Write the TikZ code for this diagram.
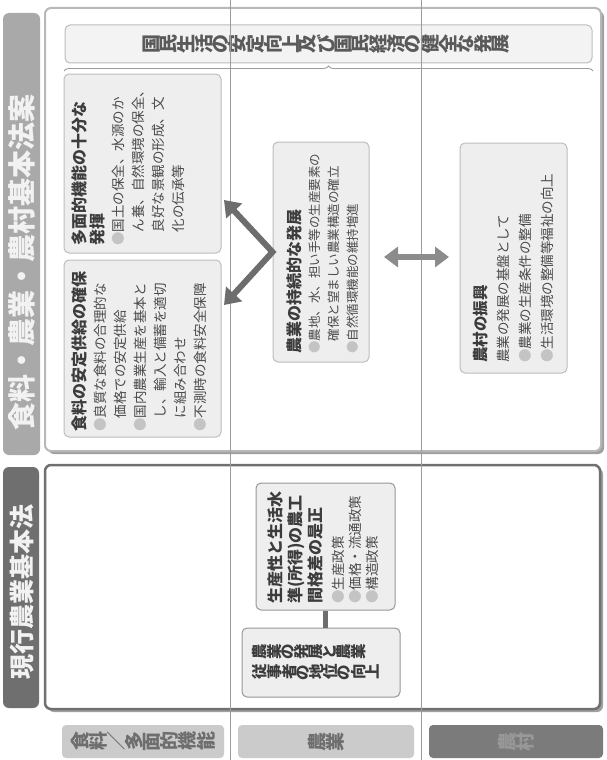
\documentclass[tikz,border=0pt]{standalone}
\usepackage{fontspec}
\setmainfont{Noto Sans CJK JP}
\usepackage{graphicx}
\usetikzlibrary{arrows.meta,decorations.pathreplacing,calc}
\ExplSyntaxOn
\NewDocumentCommand\vtxt{m}{\tl_map_inline:nn {#1} {\rotatebox[origin=c]{90}{##1}}}
\ExplSyntaxOff
\definecolor{hdrA}{HTML}{A9A9A9}
\definecolor{hdrB}{HTML}{6F6F6F}
\definecolor{pbordA}{HTML}{B8B8B8}
\definecolor{pbordB}{HTML}{707070}
\definecolor{shadowc}{HTML}{A0A0A0}
\definecolor{boxf}{HTML}{EEEEEE}
\definecolor{boxb}{HTML}{BDBDBD}
\definecolor{topf}{HTML}{F3F3F3}
\definecolor{topt}{HTML}{5A5A5A}
\definecolor{ttlc}{HTML}{3C3C3C}
\definecolor{txtc}{HTML}{4A4A4A}
\definecolor{bulc}{HTML}{C4C4C4}
\definecolor{divc}{HTML}{9C9C9C}
\definecolor{arwc}{HTML}{6D6D6D}
\definecolor{dblc}{HTML}{8C8C8C}
\definecolor{lblf}{HTML}{CBCBCB}
\definecolor{lblt}{HTML}{6E6E6E}
\definecolor{lbldf}{HTML}{7B7B7B}
\definecolor{lbldt}{HTML}{989898}
\newcommand\ttl{\fontsize{16}{18}\selectfont\bfseries\color{ttlc}}
\newcommand\bdy{\fontsize{13.5}{20}\selectfont\color{txtc}}
\newcommand\bul{{\color{bulc}●}}
\newcommand\ind{\hspace*{1em}}
\tikzset{
  hdrbar/.style={rotate=90, rounded corners=6, inner sep=0},
  hdrtext/.style={rotate=90, inner sep=0, text=white!95!black},
  panelbox/.style={fill=white, rounded corners=6, inner sep=0},
  shadowbox/.style={fill=shadowc, rounded corners=6, inner sep=0},
  cbox/.style={draw=boxb, fill=boxf, rounded corners=5, line width=1, inner sep=0},
  txt/.style={rotate=90, anchor=north west, inner sep=0, align=left},
  lbl/.style={rounded corners=4, inner sep=0, minimum height=33},
  divline/.style={draw=divc, line width=0.8},
  arw/.style={draw=arwc, line width=6, line join=miter, {Triangle[length=15,width=21]}-{Triangle[length=15,width=21]}},
  dblarw/.style={draw=dblc, line width=6, {Triangle[length=14,width=20]}-{Triangle[length=14,width=20]}},
}
\begin{document}
\begin{tikzpicture}[x=1pt,y=1pt]
\useasboundingbox (0,0) rectangle (606,-760);
\fill[white] (0,0) rectangle (606,-760);

% headers
\node[hdrbar, fill=hdrA, minimum width=442, minimum height=37] (h1) at (21.5,-234) {};
\node[hdrtext, font=\fontsize{28}{28}\selectfont\bfseries] (h1t) at (22,-262) {食料・農業・農村基本法案};
\node[hdrbar, fill=hdrB, minimum width=241, minimum height=36] (h2) at (21,-587.5) {};
\node[hdrtext, font=\fontsize{25}{25}\selectfont\bfseries] (h2t) at (22,-592) {現行農業基本法};

% panels
\node[shadowbox, minimum width=556, minimum height=443] (pnsh) at (326,-232.5) {};
\node[panelbox, draw=pbordA, line width=2, minimum width=556, minimum height=443] (pn) at (323,-229.5) {};
\node[shadowbox, minimum width=555, minimum height=244] (pcsh) at (325.5,-590) {};
\node[panelbox, draw=pbordB, line width=2.5, minimum width=555, minimum height=244] (pc) at (322.5,-587) {};

% top goal box
\node[cbox, fill=topf, draw=boxb, minimum width=527, minimum height=38] (top) at (328.5,-44) {};
\node[inner sep=0, font=\fontsize{19}{19}\selectfont\bfseries, text=topt] (topt) at (326,-44)
  {\vtxt{国民生活の安定向上及び国民経済の健全な発展}};
\draw[draw=divc, line width=0.9, decorate, decoration={brace, amplitude=5}] (64,-71) -- (593,-71);

% divider lines
\draw[divline] (230,0) -- (230,-760);
\draw[divline] (421,0) -- (421,-760);

% content boxes (new law)
\node[cbox, minimum width=157, minimum height=179] (A) at (142.5,-163.5) {};
\node[cbox, minimum width=157, minimum height=177] (B) at (142.5,-348.5) {};
\node[cbox, minimum width=96, minimum height=220] (C) at (321,-252) {};
\node[cbox, minimum width=107, minimum height=230] (D) at (513.5,-258) {};

\node[txt, text width=175] (At) at (72,-246)
 {{\ttl 多面的機能の十分な\\発揮\par}
  {\bdy\bul 国土の保全、水源のか\\\ind ん養、自然環境の保全、\\\ind 良好な景観の形成、文\\\ind 化の伝承等\par}};
\node[txt, text width=172] (Bt) at (72,-432)
 {{\ttl 食料の安定供給の確保\par}
  {\bdy\bul 良質な食料の合理的な\\\ind 価格での安定供給\\\bul 国内農業生産を基本と\\\ind し、輸入と備蓄を適切\\\ind に組み合わせ\\\bul 不測時の食料安全保障\par}};
\node[txt, text width=212] (Ct) at (287,-354)
 {{\ttl 農業の持続的な発展\par}
  {\fontsize{12.5}{19}\selectfont\color{txtc}\bul 農地、水、担い手等の生産要素の\\\ind 確保と望ましい農業構造の確立\\\bul 自然循環機能の維持増進\par}};
\node[txt, text width=222] (Dt) at (473,-363)
 {{\fontsize{15.5}{17}\selectfont\bfseries\color{ttlc}農村の振興\par}
  {\fontsize{13.5}{22}\selectfont\color{txtc}農業の発展の基盤として\\\bul 農業の生産条件の整備\\\bul 生活環境の整備等福祉の向上\par}};

% arrows
\coordinate (tipA) at (224,-200);
\coordinate (tipB) at (224,-305);
\draw[arw] (tipA) -- (C.west) -- (tipB);
\coordinate (dblL) at (384,-257);
\coordinate (dblR) at (449,-257);
\draw[dblarw] (dblL) -- (dblR);

% current law boxes
\node[cbox, draw=boxb!80!black, minimum width=139, minimum height=127] (E) at (325.5,-546.5) {};
\node[cbox, draw=boxb!80!black, minimum width=158, minimum height=69] (F) at (321,-662.5) {};
\draw[draw=arwc, line width=5] (E.south) -- (E.south |- F.north);
\node[txt, text width=122] (Et) at (268,-604)
 {{\fontsize{16}{20}\selectfont\bfseries\color{ttlc}生産性と生活水\\準(所得)の農工\\間格差の是正\par}
  \vspace{5pt}
  {\fontsize{13.5}{17}\selectfont\color{txtc}\bul 生産政策\\\bul 価格・流通政策\\\bul 構造政策\par}};
\node[anchor=west, inner sep=0, font=\fontsize{15.5}{15.5}\selectfont\bfseries, text=ttlc] (F1) at (252,-652) {\vtxt{農業の発展と農業}};
\node[anchor=west, inner sep=0, font=\fontsize{15.5}{15.5}\selectfont\bfseries, text=ttlc] (F2) at (252,-672) {\vtxt{従事者の地位の向上}};

% row labels
\node[lbl, fill=lblf, minimum width=162, text=lblt, font=\fontsize{19}{19}\selectfont\bfseries] (L1) at (143,-741.5) {\vtxt{食料／多面的機能}};
\node[lbl, fill=lblf, minimum width=176, text=lblt, font=\fontsize{19}{19}\selectfont\bfseries] (L2) at (326,-741.5) {\vtxt{農業}};
\node[lbl, fill=lbldf, minimum width=174, text=lbldt, font=\fontsize{19}{19}\selectfont\bfseries] (L3) at (516,-741.5) {\vtxt{農村}};
\end{tikzpicture}
\end{document}
